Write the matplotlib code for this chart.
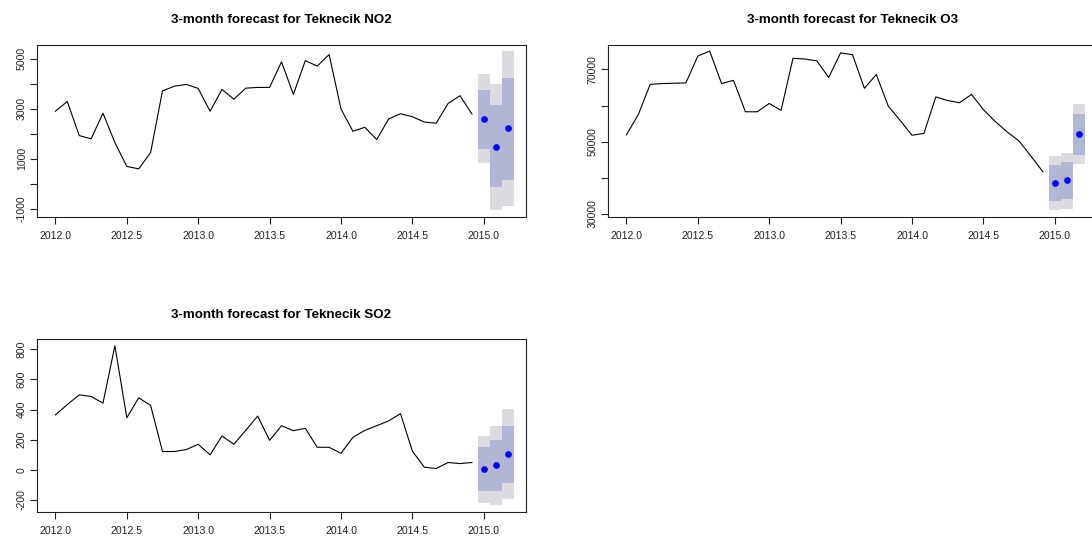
import numpy as np
import matplotlib
matplotlib.use("Agg")
import matplotlib.pyplot as plt

plt.rcParams['font.family'] = ['Liberation Sans', 'DejaVu Sans']

# monthly history, Jan 2012 .. Dec 2014
start_year = 2012
freq = 12

no2_hist = [2900, 3290, 1930, 1800, 2820, 1650, 700, 600, 1250, 3710,
            3900, 3970, 3810, 2900, 3770, 3380, 3820, 3850, 3850, 4870,
            3570, 4920, 4700, 5160, 2990, 2100, 2260, 1770, 2590, 2800,
            2680, 2470, 2420, 3210, 3520, 2790]
o3_hist = [51900, 57500, 65900, 66100, 66200, 66300, 73700, 75100, 66100, 67000,
           58300, 58300, 60600, 58700, 73100, 72900, 72400, 67800, 74600, 74100,
           64800, 68600, 59900, 55900, 51800, 52300, 62400, 61400, 60800, 63100,
           58900, 55600, 52700, 50200, 46000, 41700]
so2_hist = [365, 433, 498, 487, 443, 824, 346, 478, 428, 122,
            122, 135, 170, 100, 225, 170, 263, 357, 196, 293,
            260, 276, 150, 150, 110, 216, 262, 293, 325, 373,
            124, 18, 9, 49, 42, 49]

# 3-month forecasts (Jan-Mar 2015): mean, 80% and 95% intervals
no2_mean = [2580, 1490, 2220]
no2_lo80 = [1410, -139, 166]
no2_hi80 = [3740, 3130, 4230]
no2_lo95 = [820, -1053, -894]
no2_hi95 = [4370, 3980, 5300]

o3_mean = [38550, 39300, 52150]
o3_lo80 = [33670, 34050, 46470]
o3_hi80 = [43430, 44340, 57670]
o3_lo95 = [31020, 31460, 43710]
o3_hi95 = [45920, 47020, 60430]

so2_mean = [3, 31, 106]
so2_lo80 = [-141, -141, -85]
so2_hi80 = [150, 199, 291]
so2_lo95 = [-217, -235, -193]
so2_hi95 = [227, 288, 401]

panels = [
    ("3-month forecast for Teknecik NO2", no2_hist, no2_mean, no2_lo80, no2_hi80, no2_lo95, no2_hi95,
     np.arange(-1000, 5001, 1000), [-1000, 1000, 3000, 5000]),
    ("3-month forecast for Teknecik O3", o3_hist, o3_mean, o3_lo80, o3_hi80, o3_lo95, o3_hi95,
     np.arange(30000, 70001, 10000), [30000, 50000, 70000]),
    ("3-month forecast for Teknecik SO2", so2_hist, so2_mean, so2_lo80, so2_hi80, so2_lo95, so2_hi95,
     np.arange(-200, 801, 200), [-200, 0, 200, 400, 600, 800]),
]

W, H = 1092, 540
# axes frames in pixels: left, top, right, bottom
frames = [(37.3, 44.7, 525.7, 216.7),
          (608.3, 44.7, 1096.7, 216.7),
          (37.3, 339.3, 525.7, 511.7)]

LIGHT = "#DBDBE0"
DARK = "#B1B6D4"

fig = plt.figure(figsize=(W / 100, H / 100), dpi=100)

for (title, hist, mean, lo80, hi80, lo95, hi95, yticks, ylabeled), (l, t, r, b) in zip(panels, frames):
    ax = fig.add_axes([l / W, 1 - b / H, (r - l) / W, (b - t) / H])
    x_hist = start_year + np.arange(len(hist)) / freq
    x_fc = start_year + (len(hist) + np.arange(len(mean))) / freq
    half = 0.5 / freq

    for xf, a, c in zip(x_fc, lo95, hi95):
        ax.fill_between([xf - half, xf + half], a, c, color=LIGHT, lw=0)
    for xf, a, c in zip(x_fc, lo80, hi80):
        ax.fill_between([xf - half, xf + half], a, c, color=DARK, lw=0)

    ax.plot(x_hist, hist, color="black", lw=0.8)
    ax.plot(x_fc, mean, "o", color="blue", ms=3.8, mec="blue")

    # R style 4% padding
    x0, x1 = x_hist[0], x_fc[-1]
    y0 = min(min(hist), min(lo95))
    y1 = max(max(hist), max(hi95))
    ax.set_xlim(x0 - 0.04 * (x1 - x0), x1 + 0.04 * (x1 - x0))
    ax.set_ylim(y0 - 0.04 * (y1 - y0), y1 + 0.04 * (y1 - y0))

    xt = np.arange(2012.0, 2015.01, 0.5)
    ax.set_xticks(xt, [f"{v:.1f}" for v in xt])
    ax.set_yticks(yticks, [str(int(v)) if v in ylabeled else "" for v in yticks])

    ax.tick_params(axis='x', direction='out', length=5, width=0.8, pad=5.4,
                   labelsize=7.6, colors="#222222")
    ax.tick_params(axis='y', direction='out', length=5, width=0.8, pad=2.5,
                   labelsize=7.6, colors="#222222", labelrotation=90)
    for lab in ax.get_yticklabels():
        lab.set_va('center')
        lab.set_ha('right')
    for s in ax.spines.values():
        s.set_linewidth(0.8)
        s.set_color("#222222")

    ax.annotate(title, xy=(0.5, 1), xycoords='axes fraction', xytext=(0, 17.8),
                textcoords='offset points', ha='center', va='center',
                fontsize=9.6, fontweight='bold')

fig.savefig("out.png", dpi=100)
